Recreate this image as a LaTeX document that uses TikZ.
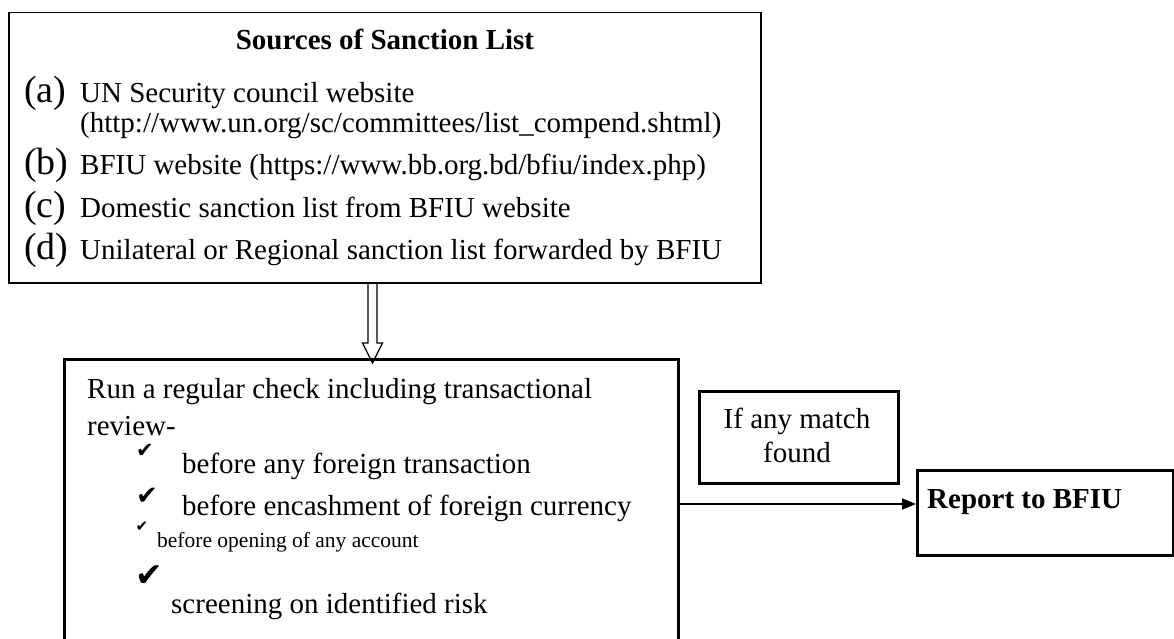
\documentclass[tikz,border=0pt]{standalone}
\usepackage{fontspec}
\setmainfont{Liberation Serif}
\newfontfamily\symfont{DejaVu Sans}
\usetikzlibrary{arrows.meta,calc}
\begin{document}
\begin{tikzpicture}[x=1pt,y=-1pt,
  txt/.style={anchor=base west,inner sep=0pt,font=\fontsize{29}{34}\selectfont},
  lbl/.style={anchor=base west,inner sep=0pt,font=\fontsize{38}{40}\selectfont},
  smalltxt/.style={anchor=base west,inner sep=0pt,font=\fontsize{21.5}{24}\selectfont},
  chk/.style={inner sep=0pt,anchor=center},
  thinbox/.style={draw,line width=1.5pt,inner sep=0pt,anchor=north west},
  thickbox/.style={draw,line width=3pt,inner sep=0pt,anchor=north west},
]
\useasboundingbox (0,0) rectangle (1174,639);
\fill[white] (0,0) rectangle (1174,639);

% boxes
\node[thinbox, minimum width=752pt, minimum height=270pt] (top) at (8,12) {};
\node[inner sep=0pt, anchor=north west, minimum width=614pt, minimum height=290pt] (low) at (64,359) {};
\draw[line width=3pt] (low.south west) -- (low.north west) -- (low.north east) -- (low.south east);
\node[thickbox, minimum width=199pt, minimum height=92pt] (ifb) at (698,390) {};
\node[thickbox, minimum width=256pt, minimum height=85pt] (rep) at (916,469) {};

% top box text
\node[txt, anchor=base, font=\bfseries\fontsize{29}{34}\selectfont] (title) at (385,50) {Sources of Sanction List};
\node[lbl] (la) at (24,103) {(a)};
\node[txt] (ta) at (80,103) {UN Security council website};
\node[txt] (ta2) at (80,133) {(http://www.un.org/sc/committees/list\_compend.shtml)};
\node[lbl] (lb) at (24,175) {(b)};
\node[txt] (tb) at (80,175) {BFIU website (https://www.bb.org.bd/bfiu/index.php)};
\node[lbl] (lc) at (24,217) {(c)};
\node[txt] (tc) at (80,217) {Domestic sanction list from BFIU website};
\node[lbl] (ld) at (24,259) {(d)};
\node[txt] (td) at (80,259) {Unilateral or Regional sanction list forwarded by BFIU};

% lower box text
\node[txt] (r1) at (87,398) {Run a regular check including transactional};
\node[txt] (r2) at (87,435) {review-};
\node[chk, font=\symfont\fontsize{21}{21}\selectfont] (c1) at (145,451) {✔};
\node[txt] (i1) at (182,473) {before any foreign transaction};
\node[chk, font=\symfont\fontsize{26}{26}\selectfont] (c2) at (147,496) {✔};
\node[txt] (i2) at (182,515) {before encashment of foreign currency};
\node[chk, font=\symfont\fontsize{15}{15}\selectfont] (c3) at (142,527) {✔};
\node[smalltxt] (i3) at (157,547) {before opening of any account};
\node[chk, font=\symfont\fontsize{33}{33}\selectfont] (c4) at (149,576) {✔};
\node[txt] (i4) at (171,613) {screening on identified risk};

% right boxes text
\node[txt, anchor=base] (m1) at (797,428) {If any match};
\node[txt, anchor=base] (m2) at (797,462) {found};
\node[txt, font=\bfseries\fontsize{29}{34}\selectfont] (rt) at (927,508) {Report to BFIU};

% connectors
\coordinate (ay) at (0,504);
\draw[line width=1.5pt, -{Triangle[length=14pt,width=11pt]}] (low.east |- ay) -- (rep.west |- ay);
\coordinate (ax) at (372.5,0);
\draw[line width=1.3pt, line join=miter]
  ($(top.south -| ax)+(-4.5,0)$) -- ($(low.north -| ax)+(-4.5,-16)$)
  -- ($(low.north -| ax)+(-10,-16)$) -- ($(low.north -| ax)+(0,4)$)
  -- ($(low.north -| ax)+(10,-16)$) -- ($(low.north -| ax)+(4.5,-16)$)
  -- ($(top.south -| ax)+(4.5,0)$);
\end{tikzpicture}
\end{document}
